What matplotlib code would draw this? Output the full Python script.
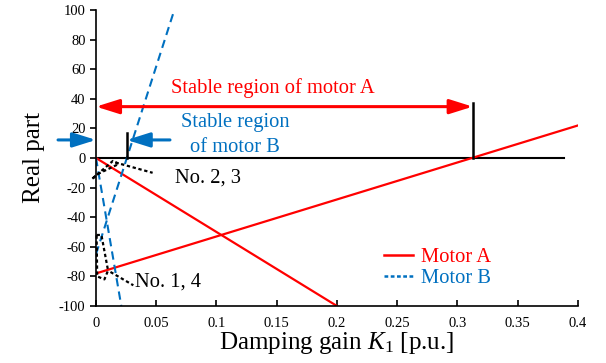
import matplotlib.pyplot as plt
from matplotlib.lines import Line2D

plt.rcParams['font.family'] = ['Liberation Serif', 'DejaVu Serif']
plt.rcParams['mathtext.fontset'] = 'custom'
plt.rcParams['mathtext.rm'] = 'Liberation Serif'
plt.rcParams['mathtext.it'] = 'Liberation Serif:italic'
plt.rcParams['axes.unicode_minus'] = False

red = '#FF0000'
blue = '#0070C0'

# Motor A root loci (two branches)
k_a1 = [0, 0.2]
re_a1 = [0, -100]
k_a2 = [0, 0.4]
re_a2 = [-78, 22]

# Motor B root loci (two branches)
k_b1 = [0, 0.065]
re_b1 = [-65, 100]
k_b2 = [0, 0.021]
re_b2 = [0, -100]

# dotted markers around roots No. 2, 3 and No. 1, 4
k_n23 = [-0.003, 0.014, 0.019, 0.001, -0.003]
re_n23 = [-14, -2, -4, -11, -14]
k_n23_lead = [0.016, 0.047]
re_n23_lead = [-3, -10]
k_n14 = [0.0005, 0.0045, 0.010, 0.007, 0.001, 0.0005]
re_n14 = [-52, -52, -76, -82, -80, -52]
k_n14_lead = [0.012, 0.031]
re_n14_lead = [-77, -86]

k_stable_a = 0.3126
k_stable_b = 0.0255
k_zero_end = 0.388

xticks = [0, 0.05, 0.1, 0.15, 0.2, 0.25, 0.3, 0.35, 0.4]
xtick_labels = ['0', '0.05', '0.1', '0.15', '0.2', '0.25', '0.3', '0.35', '0.4']
yticks = [-100, -80, -60, -40, -20, 0, 20, 40, 60, 80, 100]

fig = plt.figure(figsize=(6.06, 3.63), dpi=100)
ax = fig.add_axes([0.1584, 0.157, 0.7954, 0.8155])

ax.plot([0, k_zero_end], [0, 0], color='black', lw=1.5)
ax.plot(k_a1, re_a1, color=red, lw=1.6)
ax.plot(k_a2, re_a2, color=red, lw=1.6)
ax.plot(k_b1, re_b1, color=blue, lw=1.5, ls=(0, (4, 2.5)))
ax.plot(k_b2, re_b2, color=blue, lw=1.5, ls=(0, (4, 2.5)))

dot = dict(color='black', lw=1.6, ls=(0, (1.5, 1.2)), clip_on=False)
ax.plot(k_n23, re_n23, **dot)
ax.plot(k_n23_lead, re_n23_lead, **dot)
ax.plot(k_n14, re_n14, **dot)
ax.plot(k_n14_lead, re_n14_lead, **dot)

# stable region markers
ax.plot([k_stable_a, k_stable_a], [0, 37], color='black', lw=1.8)
ax.plot([k_stable_b, k_stable_b], [0, 17], color='black', lw=1.8)
arr = '<|-|>,head_length=0.7,head_width=0.22'
ax.annotate('', xy=(0, 34.7), xytext=(k_stable_a, 34.7),
            arrowprops=dict(arrowstyle=arr, color=red, lw=2.2,
                            mutation_scale=20, shrinkA=0, shrinkB=0))
one = '-|>,head_length=0.7,head_width=0.22'
ax.annotate('', xy=(0, 12.2), xytext=(-0.0315, 12.2), annotation_clip=False,
            arrowprops=dict(arrowstyle=one, color=blue, lw=2.2,
                            mutation_scale=20, shrinkA=0, shrinkB=0))
ax.annotate('', xy=(k_stable_b, 12.2), xytext=(0.0614, 12.2),
            arrowprops=dict(arrowstyle=one, color=blue, lw=2.2,
                            mutation_scale=20, shrinkA=0, shrinkB=0))

fs = 14.8
ax.text(0.147, 47, 'Stable region of motor A', color=red, fontsize=fs,
        ha='center', va='center')
ax.text(0.1154, 24.3, 'Stable region', color=blue, fontsize=fs,
        ha='center', va='center')
ax.text(0.1154, 7.4, 'of motor B', color=blue, fontsize=fs,
        ha='center', va='center')
ax.text(0.0656, -13.5, 'No. 2, 3', fontsize=fs, ha='left', va='center')
ax.text(0.0324, -84, 'No. 1, 4', fontsize=fs, ha='left', va='center')

handles = [Line2D([], [], color=red, lw=1.8),
           Line2D([], [], color=blue, lw=1.8, ls=(0, (1.5, 1)))]
leg = ax.legend(handles, ['Motor A', 'Motor B'], loc='upper left',
                bbox_to_anchor=(0.56, 0.26), frameon=False, fontsize=fs,
                handlelength=1.4, handletextpad=0.4, labelspacing=0.1)
for t, c in zip(leg.get_texts(), [red, blue]):
    t.set_color(c)

ax.set_xlim(0, 0.4)
ax.set_ylim(-100, 100)
ax.set_xticks(xticks)
ax.set_xticklabels(xtick_labels)
ax.set_yticks(yticks)
ax.spines['top'].set_visible(False)
ax.spines['right'].set_visible(False)
for s in ['left', 'bottom']:
    ax.spines[s].set_linewidth(1.2)
ax.tick_params(axis='x', direction='in', length=4, width=1.2, labelsize=10.5, pad=8)
ax.tick_params(axis='y', direction='out', length=4, width=1.2, labelsize=10.5)

ax.set_xlabel('Damping gain $K_1$ [p.u.]', fontsize=18, labelpad=0)
ax.set_ylabel('Real part', fontsize=18, labelpad=10)

fig.savefig('out.png')
